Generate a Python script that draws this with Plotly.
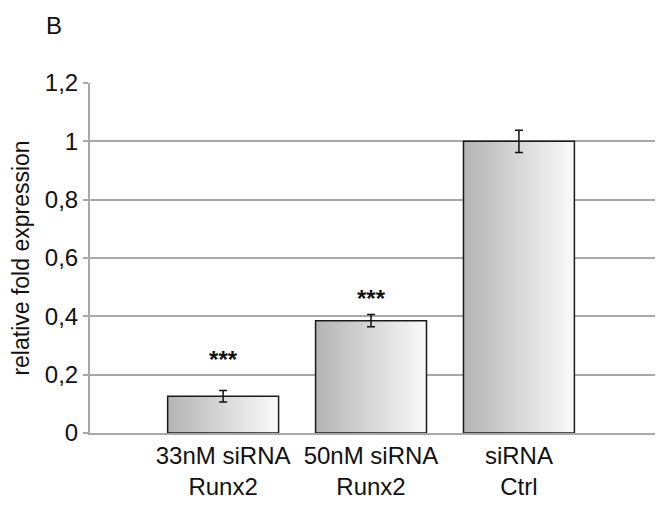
import plotly.graph_objects as go

categories = ["33nM siRNA<br>Runx2", "50nM siRNA<br>Runx2", "siRNA<br>Ctrl"]
values = [0.126, 0.385, 1.0]
errors = [0.020, 0.021, 0.038]
stars = ["***", "***", ""]
star_y = [0.245, 0.452, None]
y_ticks = [0, 0.2, 0.4, 0.6, 0.8, 1.0, 1.2]
y_tick_text = ["0", "0,2", "0,4", "0,6", "0,8", "1", "1,2"]

bar_width = 0.75
fig = go.Figure()
for i, v in enumerate(values):
    x0, x1 = i - bar_width / 2, i + bar_width / 2
    fig.add_trace(go.Scatter(
        x=[x0, x0, x1, x1, x0], y=[0, v, v, 0, 0],
        mode="lines", fill="toself",
        line=dict(color="#1a1a1a", width=1.5),
        fillgradient=dict(type="horizontal",
                          colorscale=[[0, "#b4b4b4"], [1, "#fafafa"]]),
        hoverinfo="skip", showlegend=False))

fig.add_trace(go.Scatter(
    x=list(range(len(values))), y=values, mode="markers",
    marker=dict(size=0.1, color="rgba(0,0,0,0)"),
    error_y=dict(type="data", array=errors, color="#111", thickness=1.5, width=4),
    showlegend=False, hoverinfo="skip"))

fig.add_trace(go.Scatter(
    x=[i for i, s in enumerate(stars) if s],
    y=[star_y[i] for i, s in enumerate(stars) if s],
    text=[s for s in stars if s], mode="text",
    textfont=dict(size=24, color="#111", family="Liberation Sans, Arial",
                  weight="bold"),
    showlegend=False, hoverinfo="skip"))

fig.update_layout(
    width=647, height=492,
    margin=dict(l=82, r=0, t=75, b=64),
    plot_bgcolor="white", paper_bgcolor="white",
    font=dict(family="Liberation Sans, Arial", color="#111"),
)
fig.add_annotation(text="B", xref="paper", yref="paper",
                   x=-0.08, y=1.207, xanchor="left", yanchor="top",
                   borderpad=0, showarrow=False,
                   font=dict(size=24, color="#111"))

fig.update_xaxes(
    range=[-0.9, 2.92], tickvals=list(range(len(categories))),
    ticktext=categories, tickfont=dict(size=24),
    showgrid=False, zeroline=False, showline=True,
    linecolor="#a8a8a8", linewidth=2, ticks="")
fig.update_yaxes(
    range=[0, 1.2], tickvals=y_ticks, ticktext=y_tick_text,
    tickfont=dict(size=24), showgrid=True, gridcolor="#a8a8a8", gridwidth=1.5,
    zeroline=False, showline=True, linecolor="#a8a8a8", linewidth=2,
    ticks="outside", ticklen=5, tickcolor="#a8a8a8", tickwidth=1.5,
    title=dict(text="relative fold expression", font=dict(size=23), standoff=10))

fig.write_html("out.html")
